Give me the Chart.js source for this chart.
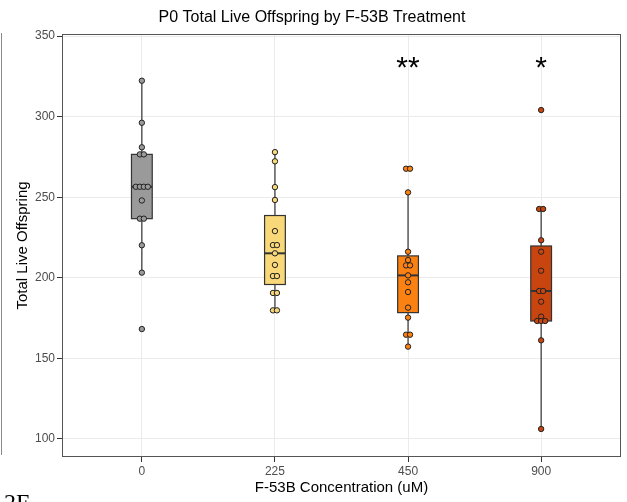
<!DOCTYPE html>
<html>
<head>
<meta charset="utf-8">
<script src="https://cdn.jsdelivr.net/npm/chart.js@4.4.1/dist/chart.umd.min.js"></script>
<style>
  body { margin: 0; background: #fff; }
  #wrap { position: relative; width: 627px; height: 502px; overflow: hidden; }
  #borde { position: absolute; left: 1px; top: 33px; width: 1px; height: 422px; background: #8a8a8a; }
  #fig { position: absolute; left: 4px; top: 489px; font: 24px "Liberation Serif", serif; color: #000; }
</style>
</head>
<body>
<div id="wrap">
  <canvas id="caja" width="627" height="502"></canvas>
  <div id="borde"></div>
  <div id="fig">2E</div>
</div>
<script>
var concentraciones = ['0', '225', '450', '900'];
var crias0 = [322.3, 296.2, 281, 276.6, 276.6, 256.5, 256.5, 256.5, 256.5, 248, 236.7, 236.7, 220.2, 203.2, 168.2];
var crias225 = [278, 272.3, 256.3, 248.3, 229, 220.3, 220.3, 215.2, 208, 201.1, 201.1, 190.6, 190.6, 179.8, 179.8];
var crias450 = [267.7, 267.7, 253, 216.2, 211, 207.7, 207.7, 201.5, 197.2, 191.2, 181.5, 175.3, 164.7, 164.7, 157.3];
var crias900 = [304.1, 242.7, 242.7, 223.3, 216.2, 204.4, 191.8, 191.8, 185.2, 175.9, 173.2, 173.2, 173.2, 161.2, 106.2];
var significancia = ['', '', '**', '*'];
var yTicks = [100, 150, 200, 250, 300, 350];

var grupos = [crias0, crias225, crias450, crias900];
var colores = ['#9a9a9a', '#f8d878', '#fb8112', '#c9450f'];
var marcaY = 330;

// cuantil tipo 7 (el de R)
function cuantil(orden, p) {
  var h = (orden.length - 1) * p;
  var lo = Math.floor(h);
  return orden[lo] + (h - lo) * ((orden[lo + 1] !== undefined ? orden[lo + 1] : orden[lo]) - orden[lo]);
}

function resumen(vals) {
  var orden = vals.slice().sort(function (a, b) { return a - b; });
  var q1 = cuantil(orden, 0.25), med = cuantil(orden, 0.5), q3 = cuantil(orden, 0.75);
  var iqr = q3 - q1;
  var dentro = orden.filter(function (v) { return v >= q1 - 1.5 * iqr && v <= q3 + 1.5 * iqr; });
  return { q1: q1, med: med, q3: q3, lo: dentro[0], hi: dentro[dentro.length - 1] };
}

// separa un poco los valores repetidos para que no se tapen
function desplazar(vals) {
  return vals.map(function (v, i) {
    var n = vals.filter(function (w) { return w === v; }).length;
    var k = vals.slice(0, i).filter(function (w) { return w === v; }).length;
    return (k - (n - 1) / 2) * 0.03;
  });
}

var datasets = grupos.map(function (vals, i) {
  var offs = desplazar(vals);
  return {
    label: concentraciones[i],
    data: vals.map(function (v, j) { return { x: i + offs[j], y: v }; }),
    backgroundColor: colores[i],
    borderColor: '#222',
    borderWidth: 1,
    pointRadius: 2.7
  };
});

var cajas = {
  id: 'cajas',
  beforeDatasetsDraw: function (chart) {
    var ctx = chart.ctx, xs = chart.scales.x, ys = chart.scales.y;
    ctx.save();
    grupos.forEach(function (vals, i) {
      var s = resumen(vals);
      var cx = xs.getPixelForValue(i);
      var mitad = xs.getPixelForValue(i + 0.078) - cx;
      var top = ys.getPixelForValue(s.q3), bot = ys.getPixelForValue(s.q1);
      ctx.strokeStyle = '#333';
      ctx.lineWidth = 1.2;
      ctx.beginPath();
      ctx.moveTo(cx, ys.getPixelForValue(s.hi));
      ctx.lineTo(cx, top);
      ctx.moveTo(cx, bot);
      ctx.lineTo(cx, ys.getPixelForValue(s.lo));
      ctx.stroke();
      ctx.fillStyle = colores[i];
      ctx.fillRect(cx - mitad, top, mitad * 2, bot - top);
      ctx.strokeRect(cx - mitad, top, mitad * 2, bot - top);
      ctx.lineWidth = 2;
      ctx.beginPath();
      var ym = ys.getPixelForValue(s.med);
      ctx.moveTo(cx - mitad, ym);
      ctx.lineTo(cx + mitad, ym);
      ctx.stroke();
    });
    ctx.restore();
  },
  afterDatasetsDraw: function (chart) {
    var ctx = chart.ctx, a = chart.chartArea, xs = chart.scales.x, ys = chart.scales.y;
    ctx.save();
    ctx.strokeStyle = '#555';
    ctx.lineWidth = 1;
    ctx.strokeRect(a.left + 0.5, a.top + 0.5, a.right - a.left - 1, a.bottom - a.top - 1);
    ctx.fillStyle = '#000';
    ctx.font = '30px "Liberation Sans", Arial, sans-serif';
    ctx.textAlign = 'center';
    ctx.textBaseline = 'middle';
    significancia.forEach(function (t, i) {
      if (t) ctx.fillText(t, xs.getPixelForValue(i), ys.getPixelForValue(marcaY));
    });
    ctx.restore();
  }
};

var ctx = document.getElementById('caja').getContext('2d');
var grafico = new Chart(ctx, {
  type: 'scatter',
  data: { datasets: datasets },
  options: {
    responsive: false,
    animation: false,
    layout: { padding: { left: 3, right: 6, top: 0, bottom: 0 } },
    plugins: {
      legend: { display: false },
      tooltip: { enabled: false },
      title: {
        display: true,
        text: 'P0 Total Live Offspring by F-53B Treatment',
        color: '#000',
        font: { family: 'Liberation Sans', size: 16, weight: 'normal' },
        padding: { top: 8, bottom: 6.8 }
      }
    },
    scales: {
      x: {
        type: 'linear',
        min: -0.6,
        max: 3.6,
        afterBuildTicks: function (s) { s.ticks = concentraciones.map(function (c, i) { return { value: i }; }); },
        afterFit: function (s) { s.height = 45; },
        ticks: {
          callback: function (v) { return concentraciones[v]; },
          color: '#4d4d4d',
          font: { family: 'Liberation Sans', size: 12 },
          padding: 2,
          maxRotation: 0
        },
        grid: { color: '#ebebeb', tickColor: '#333', tickLength: 5 },
        border: { display: false },
        title: {
          display: true,
          text: 'F-53B Concentration (uM)',
          color: '#000',
          font: { family: 'Liberation Sans', size: 15 },
          padding: { top: 0, bottom: 5 }
        }
      },
      y: {
        min: 88.8,
        max: 351.3,
        afterBuildTicks: function (s) { s.ticks = yTicks.map(function (v) { return { value: v }; }); },
        afterFit: function (s) { s.width = 59; },
        ticks: {
          color: '#4d4d4d',
          font: { family: 'Liberation Sans', size: 12 },
          padding: 2
        },
        grid: { color: '#ebebeb', tickColor: '#333', tickLength: 5 },
        border: { display: false },
        title: {
          display: true,
          text: 'Total Live Offspring',
          color: '#000',
          font: { family: 'Liberation Sans', size: 15 },
          padding: { top: 11, bottom: 0 }
        }
      }
    }
  },
  plugins: [cajas]
});
</script>
</body>
</html>
